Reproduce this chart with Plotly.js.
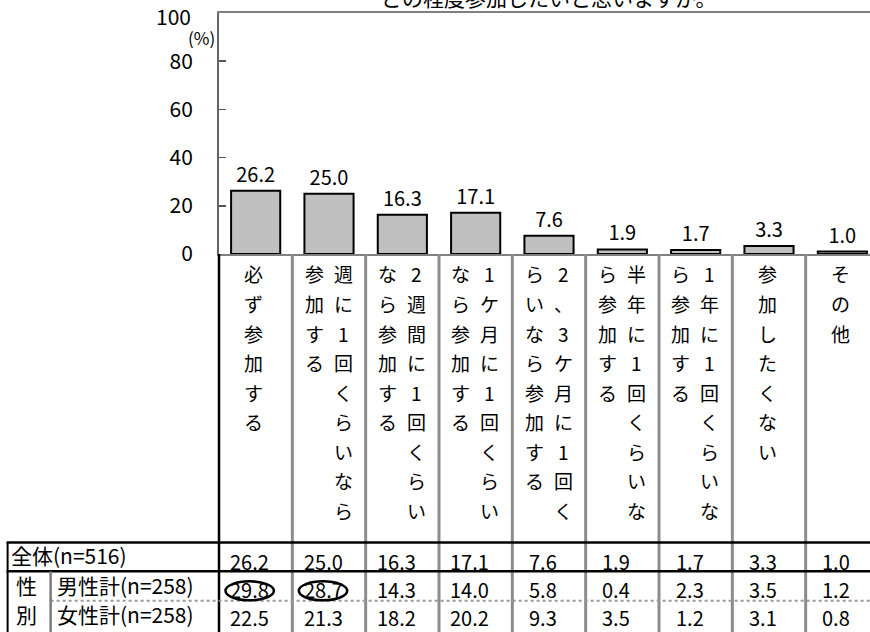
<!DOCTYPE html>
<html>
<head>
<meta charset="utf-8">
<script src="https://cdn.plot.ly/plotly-3.0.1.min.js"></script>
<style>html,body{margin:0;padding:0;background:#fff;}#chart{width:870px;height:632px;}</style>
</head>
<body>
<div id="chart"></div>
<script>
// ---- data ----
const categories = ['必ず参加する','週に1回くらいなら参加する','2週間に1回くらいなら参加する','1ケ月に1回くらいなら参加する','2、3ケ月に1回くらいなら参加する','半年に1回くらいなら参加する','1年に1回くらいなら参加する','参加したくない','その他'];
const labelLines = [['必ず参加する'],['週に1回くらいなら','参加する'],['2週間に1回くらい','なら参加する'],['1ケ月に1回くらい','なら参加する'],['2、3ケ月に1回く','らいなら参加する'],['半年に1回くらいな','ら参加する'],['1年に1回くらいな','ら参加する'],['参加したくない'],['その他']];
const totalAll = [26.2,25.0,16.3,17.1,7.6,1.9,1.7,3.3,1.0];
const male = [29.8,28.7,14.3,14.0,5.8,0.4,2.3,3.5,1.2];
const female = [22.5,21.3,18.2,20.2,9.3,3.5,1.2,3.1,0.8];
const rowLabels = ['全体(n=516)','男性計(n=258)','女性計(n=258)'];
const groupLabel = ['性','別'];
const yTicks = [0,20,40,60,80,100];
const titleText = 'どの程度参加したいと思いますか。';

// ---- layout geometry ----
const W = 870, H = 632;
const mL = 219.3, mT = 12.5, plotBottom = 254;
const plotH = plotBottom - mT;
const plotW = W - mL;
const colW = 73.3;
const xr = [-0.5, -0.5 + plotW / colW];
const yMax = yTicks[yTicks.length - 1];
const FONT = '"Noto Sans CJK JP", "Noto Sans", sans-serif';
const yp = py => (plotBottom - py) / plotH;        // pixel row -> paper y
const xpPix = px => (px - mL) / plotW;            // pixel col -> paper x
const xpVal = v => (v - xr[0]) / (xr[1] - xr[0]); // axis value -> paper x

const annotations = [];
const shapes = [];

// title (clipped at top)
annotations.push({xref:'x', yref:'paper', x: categories[4], y: yp(-4), text: titleText,
  showarrow:false, xanchor:'center', yanchor:'middle', font:{family:FONT, size:21, color:'#000'}});
// top tick label (drawn as annotation at the axis maximum)
annotations.push({xref:'paper', yref:'y', x: xpPix(193), y: yMax, yshift:-3, text: String(yMax),
  showarrow:false, xanchor:'right', yanchor:'middle', font:{family:FONT, size:21, color:'#000'}});
// (%) unit
annotations.push({xref:'paper', yref:'paper', x: xpPix(202), y: yp(37), text:'(%)',
  showarrow:false, xanchor:'center', yanchor:'middle', font:{family:FONT, size:17, color:'#000'}});

// vertical category labels
const charTop = 274, charStep = 29.6;
labelLines.forEach((lines, i) => {
  lines.forEach((line, li) => {
    let shift;
    if (lines.length === 1) shift = -2; else shift = (li === 0) ? 14 : -15;
    Array.from(line).forEach((ch, k) => {
      annotations.push({xref:'x', yref:'paper', x: categories[i], y: yp(charTop + k * charStep),
        xshift: shift, text: ch, showarrow:false, xanchor:'center', yanchor:'middle',
        font:{family:FONT, size:19, color:'#000'}});
    });
  });
});

// table values
const rowsY = [562, 590.5, 618.5];
[totalAll, male, female].forEach((arr, r) => {
  arr.forEach((v, i) => {
    annotations.push({xref:'x', yref:'paper', x: categories[i], y: yp(rowsY[r]), xshift:-6,
      text: v.toFixed(1), showarrow:false, xanchor:'center', yanchor:'middle',
      font:{family:FONT, size:20, color:'#000'}});
  });
});
// row labels
annotations.push({xref:'paper', yref:'paper', x: xpPix(9), y: yp(556), text: rowLabels[0],
  showarrow:false, xanchor:'left', yanchor:'middle', font:{family:FONT, size:21, color:'#000'}});
annotations.push({xref:'paper', yref:'paper', x: xpPix(55), y: yp(586), text: rowLabels[1],
  showarrow:false, xanchor:'left', yanchor:'middle', font:{family:FONT, size:21, color:'#000'}});
annotations.push({xref:'paper', yref:'paper', x: xpPix(55), y: yp(614.5), text: rowLabels[2],
  showarrow:false, xanchor:'left', yanchor:'middle', font:{family:FONT, size:21, color:'#000'}});
annotations.push({xref:'paper', yref:'paper', x: xpPix(27), y: yp(586), text: groupLabel[0],
  showarrow:false, xanchor:'center', yanchor:'middle', font:{family:FONT, size:21, color:'#000'}});
annotations.push({xref:'paper', yref:'paper', x: xpPix(27), y: yp(614.5), text: groupLabel[1],
  showarrow:false, xanchor:'center', yanchor:'middle', font:{family:FONT, size:21, color:'#000'}});

// column separators (gray double lines)
for (let i = 1; i < categories.length; i++) {
  const xx = xpVal(i - 0.5);
  shapes.push({type:'line', xref:'paper', yref:'paper', x0: xx, x1: xx, y0: yp(plotBottom), y1: yp(H + 2),
    line:{color:'#8c8c8c', width:3}});
}
// left black line of data area
shapes.push({type:'line', xref:'paper', yref:'paper', x0: 0, x1: 0, y0: yp(plotBottom), y1: yp(H + 2),
  line:{color:'#000', width:2.5}});
// table horizontal lines
shapes.push({type:'line', xref:'paper', yref:'paper', x0: xpPix(7), x1: 1.02, y0: yp(543), y1: yp(543),
  line:{color:'#000', width:2.5}});
shapes.push({type:'line', xref:'paper', yref:'paper', x0: xpPix(7), x1: 1.02, y0: yp(572), y1: yp(572),
  line:{color:'#000', width:2.5}});
shapes.push({type:'line', xref:'paper', yref:'paper', x0: xpPix(51), x1: 1.02, y0: yp(601.5), y1: yp(601.5),
  line:{color:'#999', width:2, dash:'dot'}});
// left border and group separator
shapes.push({type:'line', xref:'paper', yref:'paper', x0: xpPix(8), x1: xpPix(8), y0: yp(543), y1: yp(H + 2),
  line:{color:'#000', width:2}});
shapes.push({type:'line', xref:'paper', yref:'paper', x0: xpPix(51), x1: xpPix(51), y0: yp(572), y1: yp(H + 2),
  line:{color:'#7a7a7a', width:2.5}});
// ellipses around highlighted male values
[0, 1].forEach(i => {
  const c = i - 6 / colW;
  shapes.push({type:'circle', xref:'paper', yref:'paper', x0: xpVal(c - 0.33), x1: xpVal(c + 0.33),
    y0: yp(582), y1: yp(601), line:{color:'#000', width:2.5}});
});

const trace = {
  type:'bar', x: categories, y: totalAll,
  marker:{color:'#c0c0c0', line:{color:'#000', width:2}},
  width: 0.67,
  texttemplate:'%{y:.1f}', textposition:'outside', constraintext:'none', cliponaxis:false,
  textfont:{family:FONT, size:20, color:'#000'},
  hoverinfo:'skip'
};

const layout = {
  width: W, height: H,
  margin:{l: mL, r: 0, t: mT, b: H - plotBottom, pad:0},
  paper_bgcolor:'#fff', plot_bgcolor:'#fff',
  showlegend:false,
  font:{family:FONT, color:'#000'},
  xaxis:{type:'category', range: xr, showticklabels:false, ticks:'', showgrid:false, zeroline:false,
    showline:true, mirror:true, linecolor:'#808080', linewidth:2, automargin:false, fixedrange:true},
  yaxis:{range:[0, yMax], tickvals: yTicks, ticktext: yTicks.map(v => v === yMax ? '' : String(v)),
    ticks:'inside', ticklen:7,
    tickcolor:'#555', tickwidth:1.5, showgrid:false, zeroline:false, showline:true, linecolor:'#666',
    linewidth:2, tickfont:{family:FONT, size:21, color:'#000'}, ticklabelstandoff: 20,
    automargin:false, fixedrange:true},
  annotations, shapes
};

Plotly.newPlot('chart', [trace], layout, {displayModeBar:false, staticPlot:true});
</script>
</body>
</html>
